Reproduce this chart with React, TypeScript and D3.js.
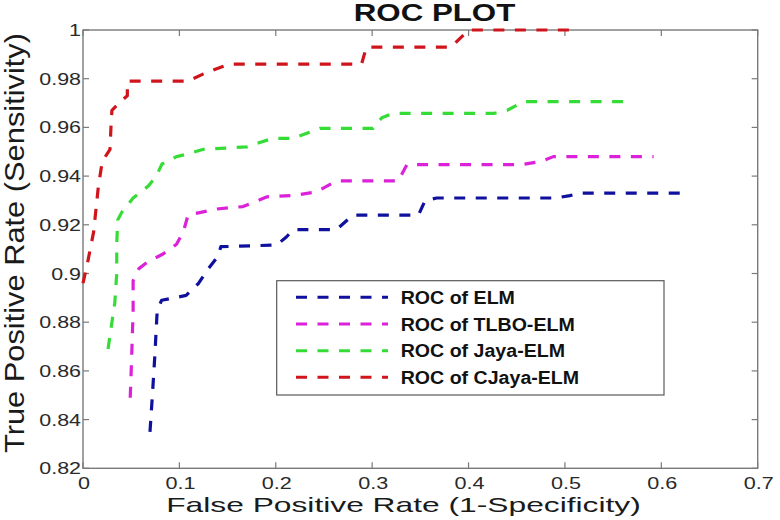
import React from "react";
import * as d3 from "d3";

type P = [number, number];

const seriesNames = ["ROC of ELM", "ROC of TLBO-ELM", "ROC of Jaya-ELM", "ROC of CJaya-ELM"];
const seriesColors = ["#10109e", "#dc22d8", "#36dc36", "#d0141c"];

const elm: P[] = [
  [0.0695, 0.835], [0.072, 0.85], [0.0745, 0.866], [0.077, 0.885], [0.0816, 0.889],
  [0.107, 0.891], [0.12, 0.896], [0.13, 0.902], [0.14, 0.907], [0.143, 0.911],
  [0.201, 0.9117], [0.211, 0.915], [0.218, 0.918], [0.263, 0.918], [0.28, 0.924],
  [0.348, 0.924], [0.355, 0.93], [0.367, 0.931], [0.491, 0.931], [0.505, 0.932],
  [0.5155, 0.933], [0.6245, 0.933],
];
const tlboElm: P[] = [
  [0.049, 0.849], [0.05, 0.86], [0.051, 0.872], [0.052, 0.885], [0.052, 0.897],
  [0.058, 0.902], [0.068, 0.905], [0.083, 0.908], [0.097, 0.912], [0.104, 0.917],
  [0.109, 0.924], [0.139, 0.9265], [0.166, 0.9275], [0.191, 0.9315], [0.218, 0.932],
  [0.242, 0.9335], [0.263, 0.938], [0.327, 0.938], [0.336, 0.9447], [0.455, 0.9447],
  [0.475, 0.946], [0.488, 0.948], [0.592, 0.948],
];
const jayaElm: P[] = [
  [0.026, 0.869], [0.03, 0.88], [0.033, 0.888], [0.035, 0.9], [0.035, 0.912],
  [0.036, 0.922], [0.04, 0.925], [0.052, 0.931], [0.068, 0.936], [0.076, 0.94],
  [0.082, 0.945], [0.097, 0.948], [0.108, 0.949], [0.125, 0.951], [0.17, 0.952],
  [0.185, 0.954], [0.197, 0.9555], [0.218, 0.9555], [0.235, 0.958], [0.246, 0.9596],
  [0.301, 0.9596], [0.31, 0.964], [0.322, 0.9658], [0.427, 0.9658], [0.44, 0.967],
  [0.457, 0.9706], [0.562, 0.9706],
];
const cjayaElm: P[] = [
  [0, 0.896], [0.005, 0.905], [0.011, 0.917], [0.016, 0.936], [0.02, 0.946],
  [0.028, 0.951], [0.029, 0.96], [0.03, 0.967], [0.04, 0.971], [0.046, 0.973],
  [0.046, 0.979], [0.109, 0.979], [0.125, 0.982], [0.145, 0.985], [0.152, 0.986],
  [0.289, 0.986], [0.294, 0.993], [0.382, 0.993], [0.4, 1.0], [0.507, 1.0],
];
const seriesData: P[][] = [elm, tlboElm, jayaElm, cjayaElm];

const xTicks = [0, 0.1, 0.2, 0.3, 0.4, 0.5, 0.6, 0.7];
const yTicks = [0.82, 0.84, 0.86, 0.88, 0.9, 0.92, 0.94, 0.96, 0.98, 1];

const title = "ROC PLOT";
const xLabel = "False Positive Rate (1-Specificity)";
const yLabel = "True Positive Rate (Sensitivity)";

const W = 780, H = 520;
const L = 83, R = 757.7, T = 30, B = 468.3;
const FONT = "'Liberation Sans', Arial, Helvetica, sans-serif";

function SText(props: { x: number; y: number; sx: number; size: number; anchor?: string; weight?: string | number; fill?: string; children: React.ReactNode }) {
  const { x, y, sx, size, anchor = "start", weight = "normal", fill = "#1a1a1a", children } = props;
  return (
    <text transform={`translate(${x},${y}) scale(${sx},1)`} fontSize={size} textAnchor={anchor}
      fontWeight={weight} fill={fill} fontFamily={FONT}>{children}</text>
  );
}

export default function App() {
  const x = d3.scaleLinear().domain([0, 0.7]).range([L, R]);
  const y = d3.scaleLinear().domain([0.82, 1]).range([B, T]);
  const line = d3.line<P>().x(d => x(d[0])).y(d => y(d[1])).curve(d3.curveLinear);
  const tickLen = 6;
  const axisColor = "#7a7a7a";
  const dash = "11,10.5";

  const legX = 276.7, legY = 280.7, legW = 664 - 276.7, legH = 395 - 280.7;
  const rowY = [297.3, 324, 350.7, 377.3];

  return (
    <svg width={W} height={H} style={{ position: "absolute", left: 0, top: 0, background: "#fff" }}>
      <rect x={0} y={0} width={W} height={H} fill="#fff" />
      <rect x={L} y={T} width={R - L} height={B - T} fill="none" stroke={axisColor} strokeWidth={1.4} />
      {xTicks.map((t, i) => (
        <g key={"xt" + i}>
          <line x1={x(t)} x2={x(t)} y1={B} y2={B - tickLen} stroke={axisColor} strokeWidth={1.2} />
          <line x1={x(t)} x2={x(t)} y1={T} y2={T + tickLen} stroke={axisColor} strokeWidth={1.2} />
          <SText x={x(t) + 1} y={489} sx={1.35} size={16} anchor="middle" fill="#2a2a2a">{String(t)}</SText>
        </g>
      ))}
      {yTicks.map((t, i) => (
        <g key={"yt" + i}>
          <line x1={L} x2={L + tickLen} y1={y(t)} y2={y(t)} stroke={axisColor} strokeWidth={1.2} />
          <line x1={R} x2={R - tickLen} y1={y(t)} y2={y(t)} stroke={axisColor} strokeWidth={1.2} />
          <SText x={81} y={y(t) + 6} sx={1.3} size={16.5} anchor="end" fill="#2a2a2a">{String(t)}</SText>
        </g>
      ))}
      {seriesData.map((s, i) => (
        <path key={"s" + i} d={line(s) || ""} fill="none" stroke={seriesColors[i]} strokeWidth={3.2}
          strokeDasharray={dash} strokeLinecap="butt" strokeLinejoin="round" />
      ))}
      <rect x={legX} y={legY} width={legW} height={legH} fill="#fff" stroke="#5a5a5a" strokeWidth={1.2} />
      {seriesNames.map((n, i) => (
        <g key={"lg" + i}>
          <line x1={296} x2={388} y1={rowY[i]} y2={rowY[i]} stroke={seriesColors[i]} strokeWidth={3}
            strokeDasharray={dash} />
          <SText x={400.7} y={rowY[i] + 6.5} sx={1.12} size={17.5} weight={600} fill="#111">{n}</SText>
        </g>
      ))}
      <SText x={434.5} y={21} sx={1.36} size={23} anchor="middle" weight="bold" fill="#111">{title}</SText>
      <SText x={403.5} y={511.5} sx={1.55} size={20.5} anchor="middle" fill="#1a1a1a">{xLabel}</SText>
      <text transform={`translate(23.5,243) rotate(-90)`} fontSize={28} textAnchor="middle"
        fontFamily={FONT} fill="#1a1a1a" textLength={420} lengthAdjust="spacingAndGlyphs">{yLabel}</text>
    </svg>
  );
}
